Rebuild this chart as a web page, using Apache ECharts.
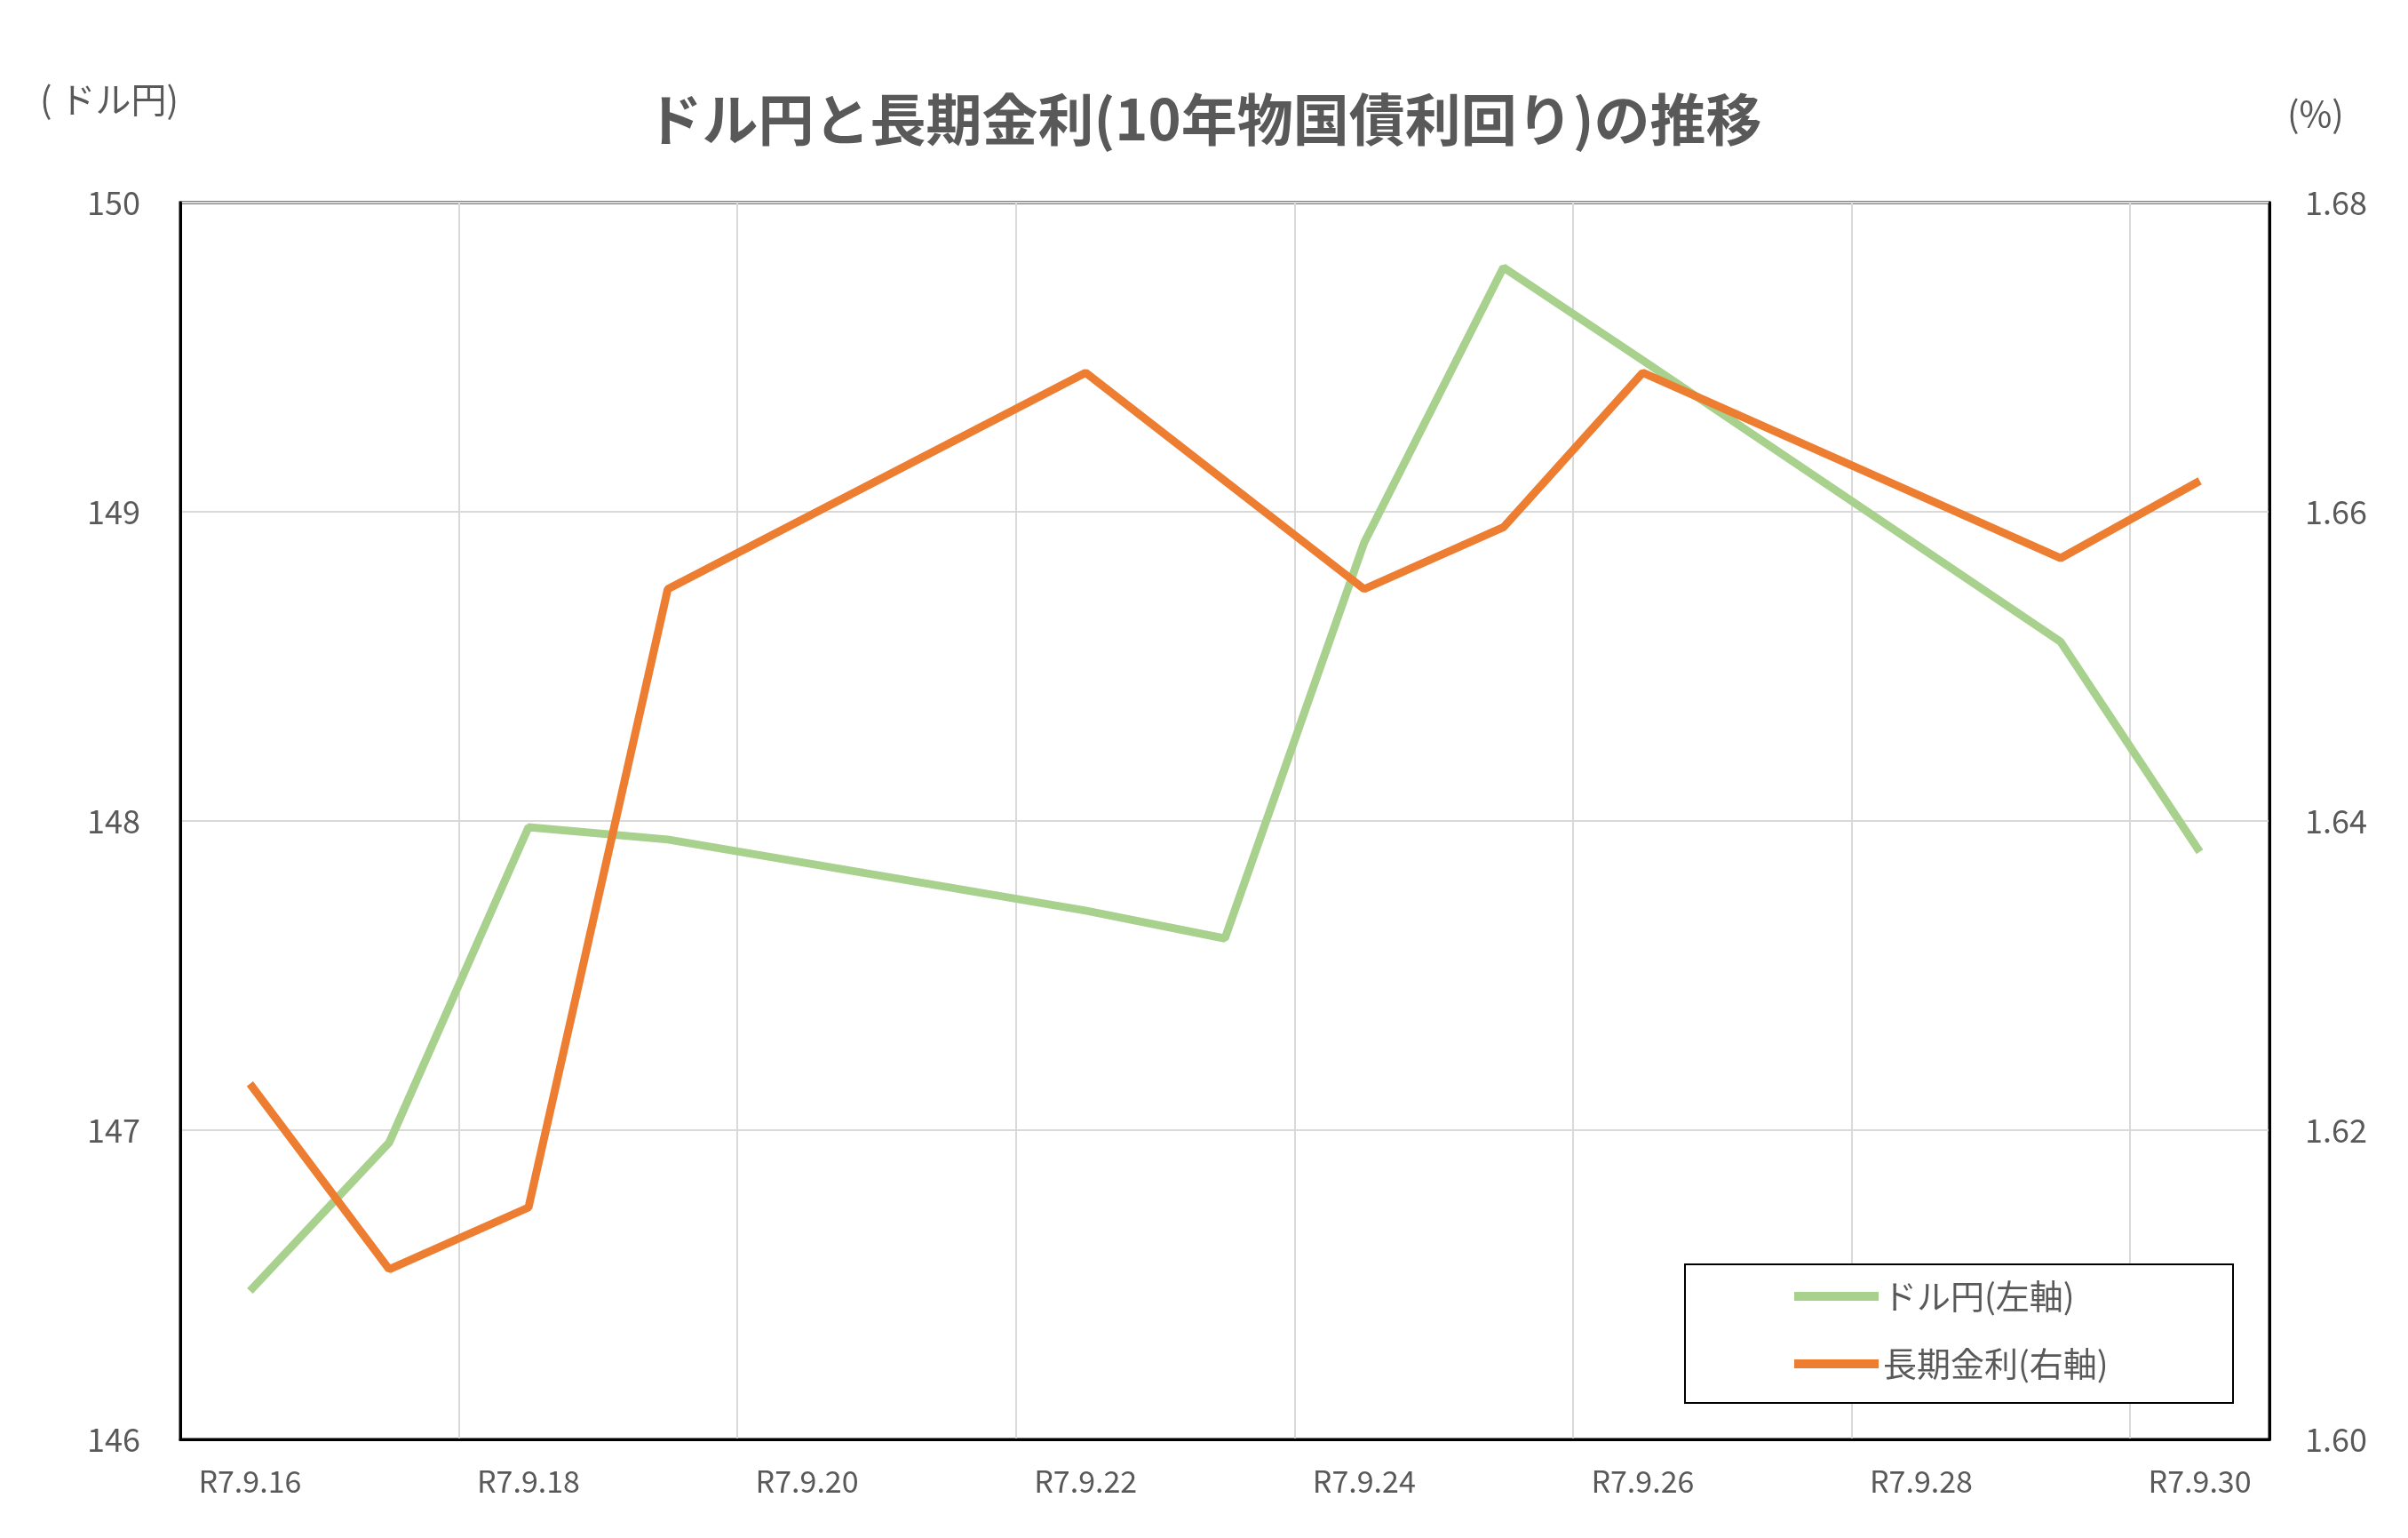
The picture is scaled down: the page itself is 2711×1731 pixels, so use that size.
<!DOCTYPE html>
<html><head><meta charset="utf-8">
<script src="https://cdn.jsdelivr.net/npm/echarts@6/dist/echarts.min.js"></script>
<style>html,body{margin:0;padding:0;background:#fff}#c{width:2711px;height:1731px}</style>
</head><body><div id="c"></div>
<script>
const categories = ['R7.9.16','R7.9.17','R7.9.18','R7.9.19','R7.9.20','R7.9.21','R7.9.22','R7.9.23','R7.9.24','R7.9.25','R7.9.26','R7.9.27','R7.9.28','R7.9.29','R7.9.30'];
const usdjpy = [146.48,146.96,147.98,147.94,null,null,147.71,147.62,148.90,149.79,149.49,null,null,148.58,147.90];
const jgb10y = [1.623,1.611,1.615,1.655,null,null,1.669,null,1.655,1.659,1.669,null,null,1.657,1.662];
const font = '"Noto Sans CJK JP", "Noto Sans", sans-serif';
const chart = echarts.init(document.getElementById('c'));
const blackLine = {show:true,lineStyle:{color:'#000',width:3}};
chart.setOption({
  textStyle:{fontFamily:font},
  title:{text:'ドル円と長期金利(10年物国債利回り)の推移',left:'center',top:98,
    textStyle:{fontFamily:font,fontSize:63,fontWeight:'bold',color:'#595959'}},
  graphic:[
    {type:'text',left:45,top:92,style:{text:'( ドル円)',fontFamily:font,fontSize:40,fill:'#595959'}},
    {type:'text',left:2575,top:108,style:{text:'(%)',fontFamily:font,fontSize:40,fill:'#595959'}},
    {type:'rect',left:1896,top:1422,shape:{width:617,height:156},z:10,
     style:{fill:'#fff',stroke:'#000',lineWidth:2}}
  ],
  grid:{left:203,right:156,top:228,bottom:111,show:true,borderColor:'#000',borderWidth:3},
  legend:{orient:'vertical',left:2020,top:1440,padding:0,itemGap:38,itemWidth:95,itemHeight:10,z:20,
    textStyle:{fontFamily:font,fontSize:38,color:'#595959'},
    data:[{name:'ドル円(左軸)',icon:'rect'},{name:'長期金利(右軸)',icon:'rect'}]},
  xAxis:{type:'category',data:categories,boundaryGap:true,
    axisLine:blackLine,
    axisTick:{interval:1,length:8,lineStyle:{color:'#d9d9d9',width:2}},
    axisLabel:{interval:1,fontSize:34,color:'#595959',margin:30,fontFamily:font},
    splitLine:{show:true,interval:1,lineStyle:{color:'#d9d9d9',width:2}}},
  yAxis:[
    {type:'value',min:146,max:150,interval:1,position:'left',
     axisLine:blackLine,axisTick:{show:false},
     axisLabel:{fontSize:36,color:'#595959',margin:45,fontFamily:font},
     splitLine:{lineStyle:{color:'#d9d9d9',width:2}}},
    {type:'value',min:1.60,max:1.68,interval:0.02,position:'right',
     axisLine:blackLine,axisTick:{show:false},
     axisLabel:{fontSize:36,color:'#595959',margin:40,fontFamily:font,formatter:v=>v.toFixed(2)},
     splitLine:{show:false}}
  ],
  series:[
    {name:'ドル円(左軸)',type:'line',data:usdjpy,yAxisIndex:0,connectNulls:true,showSymbol:false,
     lineStyle:{color:'#a9d18e',width:9},itemStyle:{color:'#a9d18e'}},
    {name:'長期金利(右軸)',type:'line',data:jgb10y,yAxisIndex:1,connectNulls:true,showSymbol:false,
     lineStyle:{color:'#ed7d31',width:9},itemStyle:{color:'#ed7d31'}}
  ]
});
</script></body></html>
